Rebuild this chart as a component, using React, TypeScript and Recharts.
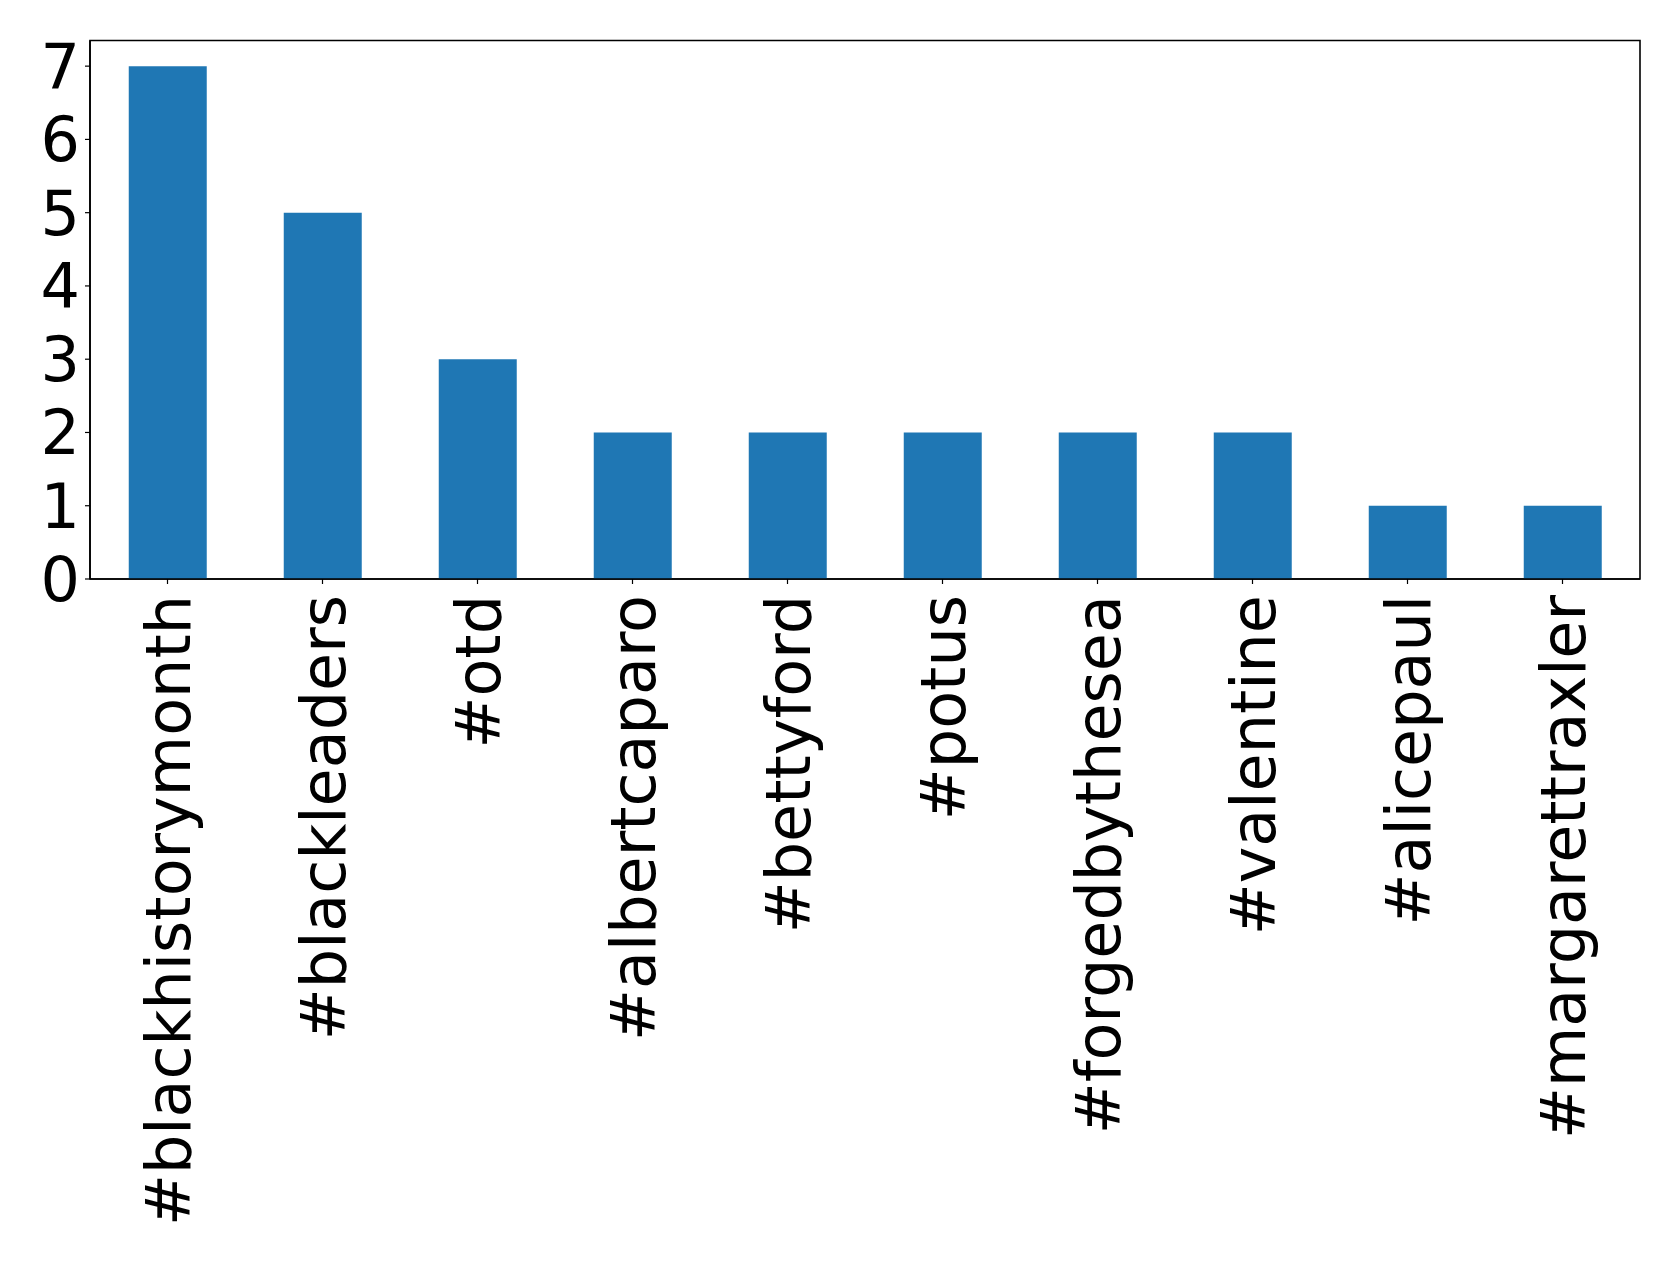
import React from "react";
import { BarChart, Bar, XAxis, YAxis, ReferenceArea } from "recharts";

const categories = [
  "#blackhistorymonth",
  "#blackleaders",
  "#otd",
  "#albertcaparo",
  "#bettyford",
  "#potus",
  "#forgedbythesea",
  "#valentine",
  "#alicepaul",
  "#margarettraxler",
];
const counts = [7, 5, 3, 2, 2, 2, 2, 2, 1, 1];
const yTicks = [0, 1, 2, 3, 4, 5, 6, 7];
const yMax = 7.35;

const data = categories.map((name, i) => ({ name, value: counts[i] }));

const FONT = "DejaVu Sans";
const FS = 62;

const XTick = (props: any) => {
  const { x, y, payload } = props;
  return (
    <text
      x={x}
      y={y}
      transform={`rotate(-90, ${x}, ${y})`}
      textAnchor="end"
      dy="0.37em"
      fontFamily={FONT}
      fontSize={FS}
      fill="#000"
    >
      {payload.value}
    </text>
  );
};

export default function App() {
  return (
    <div style={{ position: "absolute", left: 0, top: 0, width: 1679, height: 1264, background: "#fff" }}>
      <BarChart
        width={1679}
        height={1264}
        data={data}
        margin={{ top: 40.5, right: 39, left: 0, bottom: 0 }}
        barCategoryGap="25%"
      >
        <XAxis
          dataKey="name"
          type="category"
          interval={0}
          height={685}
          tickSize={5}
          tickMargin={11}
          tick={<XTick />}
          axisLine={{ stroke: "#000", strokeWidth: 1.6 }}
          tickLine={{ stroke: "#000", strokeWidth: 1.2 }}
        />
        <YAxis
          type="number"
          domain={[0, yMax]}
          ticks={yTicks}
          interval={0}
          width={90}
          tickSize={5}
          tickMargin={5}
          allowDataOverflow
          tick={{ fontFamily: FONT, fontSize: FS, fill: "#000" }}
          axisLine={{ stroke: "#000", strokeWidth: 1.6 }}
          tickLine={{ stroke: "#000", strokeWidth: 1.2 }}
        />
        <Bar dataKey="value" fill="#1f77b4" isAnimationActive={false} />
        <ReferenceArea
          y1={0}
          y2={yMax}
          fill="none"
          fillOpacity={0}
          stroke="#000"
          strokeWidth={1.6}
          strokeOpacity={1}
          ifOverflow="visible"
        />
      </BarChart>
    </div>
  );
}
